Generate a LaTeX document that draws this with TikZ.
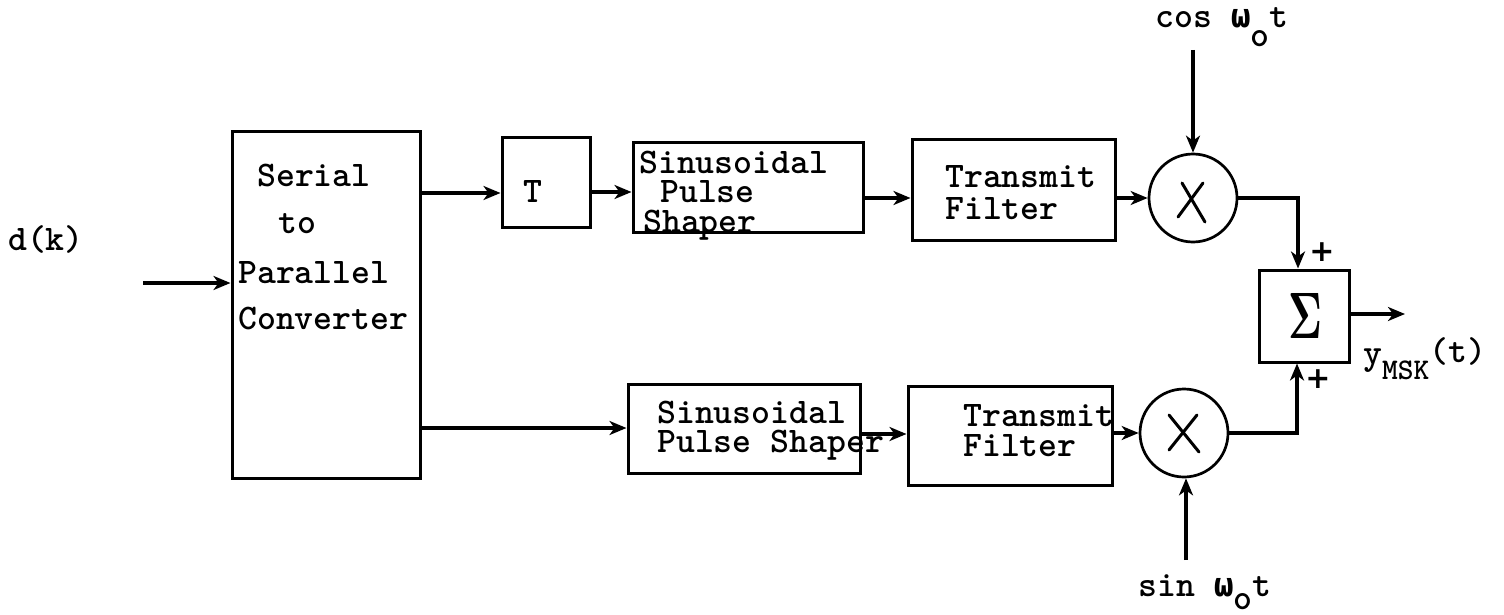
\documentclass[tikz,border=0pt]{standalone}
\usepackage{graphicx}
\usepackage[no-math]{fontspec}
\newfontfamily\plusfont{DejaVu Sans}
\newfontfamily\omgfont{DejaVu Sans Mono}
\usetikzlibrary{arrows.meta}
\newcommand{\omg}{{\omgfont\fontsize{33}{36}\selectfont ω}}
\begin{document}
\begin{tikzpicture}[x=1pt,y=-1pt,
  box/.style={draw, line width=3pt, inner sep=0pt},
  mult/.style={draw, circle, line width=2.7pt, minimum size=88pt, inner sep=0pt},
  conn/.style={line width=3.2pt},
  arr/.style={conn, -{Stealth[length=17pt,width=14pt,inset=5pt]}},
  cross/.style={line width=3pt, line cap=round},
  tt/.style={font=\ttfamily\bfseries\fontsize{36}{40}\selectfont, inner sep=0pt, anchor=base west},
  plus/.style={font=\plusfont\bfseries\fontsize{30}{30}\selectfont, inner sep=0pt}]

\useasboundingbox (0,0) rectangle (1504,615);
\fill[white] (0,0) rectangle (1504,615);

% blocks
\node[box, minimum width=188pt, minimum height=346pt] (serial) at (326,305) {};
\node[box, minimum width=88pt, minimum height=89pt] (tbox) at (546,182.5) {};
\node[box, minimum width=230pt, minimum height=89pt] (ps1) at (748,187.5) {};
\node[box, minimum width=203pt, minimum height=100pt] (tf1) at (1013.5,190) {};
\node[box, minimum width=232pt, minimum height=89pt] (ps2) at (744,428.5) {};
\node[box, minimum width=204pt, minimum height=99pt] (tf2) at (1010,435.5) {};
\node[box, minimum width=90pt, minimum height=92pt] (sum) at (1304,316) {};
\node[mult] (m1) at (1193,198) {};
\node[mult] (m2) at (1184,433) {};

% texts
\node[tt] (dk) at (8,250) {d(k)};
\node[tt] (s1) at (257,186) {Serial};
\node[tt] (s2) at (278,233) {to};
\node[tt] (s3) at (238,283) {Parallel};
\node[tt] (s4) at (238,329) {Converter};
\node[tt] (tT) at (523,202) {T};
\node[tt] (p1a) at (639,173) {Sinusoidal};
\node[tt] (p1b) at (660,202) {Pulse};
\node[tt] (p1c) at (643,232) {Shaper};
\node[tt] (f1a) at (945,187) {Transmit};
\node[tt] (f1b) at (945,219) {Filter};
\node[tt] (p2a) at (657,423) {Sinusoidal};
\node[tt] (p2b) at (657,452) {Pulse Shaper};
\node[tt] (f2a) at (963,426) {Transmit};
\node[tt] (f2b) at (963,456) {Filter};
\node[tt] (cosl) at (1155,28) {cos~\omg\raisebox{-19pt}{o}t};
\node[tt] (sinl) at (1138,596) {sin~\omg\raisebox{-13pt}{o}t};
\node[tt] (yl) at (1363,364) {y\raisebox{-15pt}{\fontsize{30}{30}\selectfont MSK}\raisebox{2pt}{(t)}};
\node[inner sep=0pt] (sig) at (1305,316) {\resizebox{34pt}{45pt}{$\mathbf{\Sigma}$}};
\node[plus] (pl1) at (1322,252) {+};
\node[plus] (pl2) at (1318,379) {+};

% crosses in the multipliers
\draw[cross] ([shift={(-15,19)}]m1.center) -- ([shift={(10,-15)}]m1.center);
\draw[cross] ([shift={(-11,-15)}]m1.center) -- ([shift={(12,24)}]m1.center);
\draw[cross] ([shift={(-15,-18)}]m2.center) -- ([shift={(15,19)}]m2.center);
\draw[cross] ([shift={(13,-18)}]m2.center) -- ([shift={(-15,17)}]m2.center);

% free ends
\coordinate (din) at (143,283);
\coordinate (cosin) at (1193,50);
\coordinate (sinin) at (1186,560);
\coordinate (yout) at (1405,314);

% connectors
\draw[arr] (din) -- (serial.west |- din);
\draw[arr] (serial.east |- 0,193) -- (tbox.west |- 0,193);
\draw[arr] (tbox.east |- 0,192) -- (ps1.west |- 0,192);
\draw[arr] (ps1.east |- 0,198) -- (tf1.west |- 0,198);
\draw[arr] (tf1.east |- m1) -- (m1.west);
\draw[arr] (serial.east |- 0,428) -- (ps2.west |- 0,428);
\draw[arr] (ps2.east |- 0,434) -- (tf2.west |- 0,434);
\draw[arr] (tf2.east |- m2) -- (m2.west);
\draw[arr] (cosin) -- (m1.north);
\draw[arr] (sinin) -- (sinin |- m2.south);
\draw[arr] (m1.east) -| ([xshift=-6pt]sum.north);
\draw[arr] (m2.east) -| ([xshift=-7pt]sum.south);
\draw[arr] (sum.east |- yout) -- (yout);
\end{tikzpicture}
\end{document}
